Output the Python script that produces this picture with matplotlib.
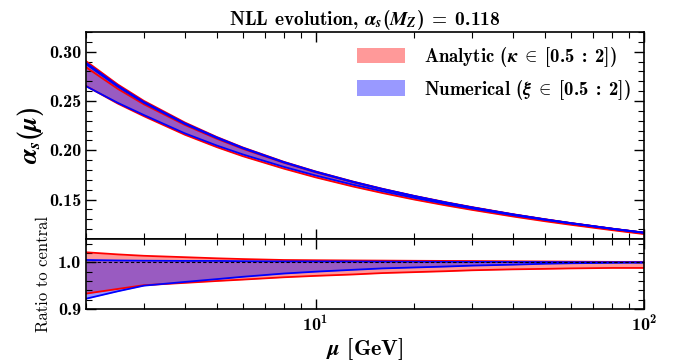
import numpy as np
import matplotlib
matplotlib.use("Agg")
import matplotlib.pyplot as plt
from matplotlib.ticker import MultipleLocator, LogLocator, NullFormatter

plt.rcParams["font.family"] = ["cmb10", "DejaVu Serif"]
plt.rcParams["mathtext.fontset"] = "custom"
plt.rcParams["mathtext.rm"] = "cmb10"
plt.rcParams["mathtext.bf"] = "cmb10"
plt.rcParams["mathtext.it"] = "STIXGeneral:italic:bold"
plt.rcParams["axes.unicode_minus"] = False

# scale mu [GeV]
mu = [2, 2.5, 3, 4, 5, 6, 8, 10, 13, 16, 20, 25, 30, 40, 50, 60, 80, 100]

# central values
as_analytic = [0.2843, 0.2623, 0.2467, 0.2257, 0.2117, 0.2015, 0.1874, 0.1777,
               0.1676, 0.1603, 0.1532, 0.1468, 0.1419, 0.1348, 0.1298, 0.1260,
               0.1204, 0.1164]
as_numerical = [0.2874, 0.2645, 0.2482, 0.2267, 0.2125, 0.2021, 0.1877, 0.1780,
                0.1678, 0.1605, 0.1534, 0.1468, 0.1419, 0.1348, 0.1298, 0.1260,
                0.1204, 0.1164]

# band edges relative to central (lower panel)
an_up = [1.0215, 1.017, 1.014, 1.011, 1.0086, 1.007, 1.005, 1.0045, 1.004,
         1.0037, 1.0033, 1.003, 1.0028, 1.0022, 1.0018, 1.0015, 1.001, 1.001]
an_lo = [0.933, 0.943, 0.951, 0.956, 0.960, 0.963, 0.968, 0.971, 0.974,
         0.977, 0.979, 0.981, 0.983, 0.985, 0.986, 0.987, 0.988, 0.988]
num_up = [1.005, 1.004, 1.0035, 1.003, 1.003, 1.0025, 1.002, 1.002, 1.0018,
          1.0015, 1.0013, 1.001, 1.001, 1.0007, 1.0005, 1.0003, 1.0001, 1.0]
num_lo = [0.922, 0.938, 0.950, 0.958, 0.964, 0.969, 0.976, 0.980, 0.984,
          0.987, 0.989, 0.991, 0.993, 0.995, 0.997, 0.998, 0.999, 0.9995]

mu = np.array(mu)
c_an, c_num = np.array(as_analytic), np.array(as_numerical)
r_an_up, r_an_lo = np.array(an_up), np.array(an_lo)
r_num_up, r_num_lo = np.array(num_up), np.array(num_lo)

fig = plt.figure(figsize=(6.73, 3.62), dpi=100)
ax = fig.add_axes([0.1278, 0.3398, 0.8291, 0.5718])
axr = fig.add_axes([0.1278, 0.1464, 0.8291, 0.1934], sharex=ax)

# upper panel
ax.fill_between(mu, c_an * r_an_lo, c_an * r_an_up, color="red", alpha=0.4, lw=0,
                label=r"Analytic ($\kappa\ \in\ [0.5\ :\ 2]$)")
ax.fill_between(mu, c_num * r_num_lo, c_num * r_num_up, color="blue", alpha=0.4, lw=0,
                label=r"Numerical ($\xi\ \in\ [0.5\ :\ 2]$)")
for y in (c_an * r_an_up, c_an, c_an * r_an_lo):
    ax.plot(mu, y, color="red", lw=1.3)
for y in (c_num * r_num_up, c_num, c_num * r_num_lo):
    ax.plot(mu, y, color="blue", lw=1.3)

# ratio panel
axr.fill_between(mu, r_an_lo, r_an_up, color="red", alpha=0.4, lw=0)
axr.fill_between(mu, r_num_lo, r_num_up, color="blue", alpha=0.4, lw=0)
axr.plot(mu, r_an_up, color="red", lw=1.3)
axr.plot(mu, r_an_lo, color="red", lw=1.3)
axr.plot(mu, r_num_up, color="blue", lw=1.3)
axr.plot(mu, r_num_lo, color="blue", lw=1.3)
axr.axhline(1.0, color="k", ls="--", lw=0.8, dashes=(3, 2))

ax.set_xscale("log")
ax.set_xlim(2, 100)
ax.set_ylim(0.11, 0.32)
axr.set_ylim(0.9, 1.05)

ax.yaxis.set_major_locator(MultipleLocator(0.05))
ax.yaxis.set_minor_locator(MultipleLocator(0.01))
ax.yaxis.set_major_formatter(plt.FormatStrFormatter("%.2f"))
axr.yaxis.set_major_locator(MultipleLocator(0.1))
axr.yaxis.set_minor_locator(MultipleLocator(0.02))
axr.yaxis.set_major_formatter(plt.FormatStrFormatter("%.1f"))
axr.xaxis.set_major_locator(LogLocator(base=10))
axr.xaxis.set_minor_locator(LogLocator(base=10, subs=np.arange(2, 10)))
axr.xaxis.set_minor_formatter(NullFormatter())

for a in (ax, axr):
    a.tick_params(which="both", direction="in", top=True, right=True, labelsize=13)
    a.tick_params(which="major", length=7, width=1)
    a.tick_params(which="minor", length=4, width=0.8)
    for s in a.spines.values():
        s.set_linewidth(1.2)
ax.tick_params(labelbottom=False)

ax.set_ylabel(r"$\alpha_s(\mu)$", fontsize=19, labelpad=2)
axr.set_ylabel("Ratio to central", fontsize=12, family=["cmr10", "DejaVu Serif"],
               labelpad=5)
axr.set_xlabel(r"$\mu$ [GeV]", fontsize=16, labelpad=1)
ax.set_title(r"NLL evolution, $\alpha_s(M_Z)\ =\ 0.118$", fontsize=14, pad=3)
ax.legend(loc="upper right", frameon=False, fontsize=13.5, handlelength=2.6,
          handleheight=0.9, handletextpad=1.0, borderaxespad=0.3,
          labelspacing=0.45)

fig.savefig("out.png", dpi=100)
